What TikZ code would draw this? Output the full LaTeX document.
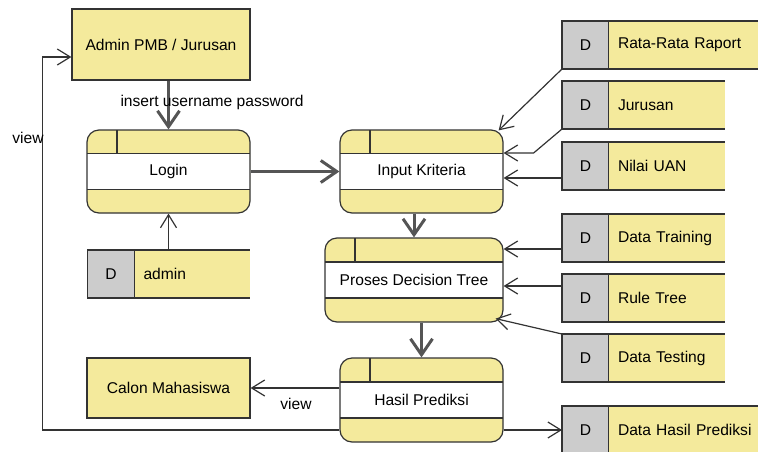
\documentclass[tikz,border=0pt]{standalone}
\usepackage{fontspec}
\setmainfont{Liberation Sans}
\usetikzlibrary{positioning,arrows.meta,calc}
\definecolor{padi}{RGB}{244,234,156}
\definecolor{abu}{RGB}{204,204,204}
\definecolor{garis}{RGB}{51,51,51}
\definecolor{panah}{RGB}{85,85,85}

\begin{document}
\begin{tikzpicture}[x=1pt,y=-1pt,
font=\fontsize{15.6}{18}\selectfont,
ent/.style={draw=garis,fill=padi,line width=1.2pt,align=center},
proc/.style={draw=garis,fill=padi,line width=1.2pt,rounded corners=12pt,minimum height=83pt,
  path picture={
  \fill[white,sharp corners]([yshift=18pt]path picture bounding box.west) rectangle ([yshift=-18pt]path picture bounding box.east);
  \draw[garis,line width=1.2pt,sharp corners]([yshift=18pt]path picture bounding box.west) -- ([yshift=18pt]path picture bounding box.east)
  ([yshift=-18pt]path picture bounding box.west) -- ([yshift=-18pt]path picture bounding box.east)
  ([xshift=30pt]path picture bounding box.north west) -- ([xshift=30pt,yshift=18pt]path picture bounding box.west);}},
dstore/.style={draw=garis,fill=abu,line width=1.2pt,minimum width=47pt,minimum height=48pt,inner sep=0pt,outer sep=0pt},
dname/.style={fill=padi,minimum height=48pt,inner xsep=9pt,outer sep=0pt,align=left,text width=98pt},
alir/.style={draw=garis,line width=1.2pt,-{Straight Barb[length=13pt,width=16pt]}},
alirtebal/.style={draw=panah,line width=3pt,-{Straight Barb[length=16pt,width=22pt]}}]
\useasboundingbox (0,0) rectangle (758,451);
% entitas dan proses
\node[ent,minimum width=178pt,minimum height=71pt] (admin) at (161,44.5) {Admin PMB / Jurusan};
\node[proc,minimum width=163pt] (login) at (168.5,171.5) {Login};
\node[proc,minimum width=163pt] (input) at (421.5,171.5) {Input Kriteria};
\node[proc,minimum width=178pt,minimum height=84pt] (proses) at (414,280) {Proses Decision Tree};
\node[proc,minimum width=163pt,minimum height=84pt] (hasil) at (421.5,400) {Hasil Prediksi};
\node[ent,minimum width=163pt,minimum height=60pt] (calon) at (168.5,388) {Calon Mahasiswa};
% data store
\node[dstore] (dadm) at (111,274) {D};
\node[dname,right=0pt of dadm,text width=97pt] (nadm) {admin};
\node[dstore] (draport) at (585.5,45) {D};
\node[dname,right=0pt of draport,text width=143pt] (nraport) {Rata-Rata Raport};
\node[dstore] (djur) at (585.5,105) {D};
\node[dname,right=0pt of djur] (njur) {Jurusan};
\node[dstore] (duan) at (585.5,166) {D};
\node[dname,right=0pt of duan] (nuan) {Nilai UAN};
\node[dstore] (dtrain) at (585.5,238) {D};
\node[dname,right=0pt of dtrain] (ntrain) {Data Training};
\node[dstore] (drule) at (585.5,298) {D};
\node[dname,right=0pt of drule] (nrule) {Rule Tree};
\node[dstore] (dtest) at (585.5,358) {D};
\node[dname,right=0pt of dtest] (ntest) {Data Testing};
\node[dstore] (dout) at (585.5,430) {D};
\node[dname,right=0pt of dout,text width=143pt] (nout) {Data Hasil Prediksi};
\foreach \n in {nadm,nraport,njur,nuan,ntrain,nrule,ntest,nout}
  \draw[garis,line width=1.2pt] (\n.north west) -- (\n.north east) (\n.south west) -- (\n.south east);
% alur utama
\draw[alirtebal] (admin.south -| login.north) -- (login.north);
\node (lblinsert) at (212,102) {insert username password};
\draw[alirtebal] (login) -- (input);
\draw[alirtebal] (input.south -| proses.north) -- (proses.north);
\draw[alirtebal] (proses.south -| hasil.north) -- (hasil.north);
\draw[alir] (dadm.north -| login.south) -- (login.south);
% masukan data
\draw[alir] (draport.south west) -- ([xshift=-5pt,yshift=-1pt]input.north east);
\draw[alir] (djur.south west) -- ([xshift=30pt,yshift=18.5pt]input.east) -- ([yshift=18.5pt]input.east);
\coordinate (uanout) at ([yshift=-12pt]duan.west);
\draw[alir] (uanout) -- (uanout -| input.east);
\coordinate (trainout) at ([yshift=-11pt]dtrain.west);
\draw[alir] (trainout) -- (trainout -| proses.east);
\coordinate (ruleout) at ([yshift=12pt]drule.west);
\draw[alir] (ruleout) -- (ruleout -| proses.east);
\draw[alir] (dtest.north west) -- ([xshift=-8pt,yshift=4pt]proses.south east);
% keluaran
\draw[alir] ([yshift=-30pt]hasil.east) -- (dout.west);
\draw[alir] ([yshift=12pt]hasil.west) -- (calon.east);
\node (lblview2) at (296,404) {view};
\draw[alir] ([yshift=-30pt]hasil.west) -| ([xshift=-29pt,yshift=-12.5pt]admin.west) -- ([yshift=-12.5pt]admin.west);
\node (lblview) at (28,138) {view};
\end{tikzpicture}
\end{document}
